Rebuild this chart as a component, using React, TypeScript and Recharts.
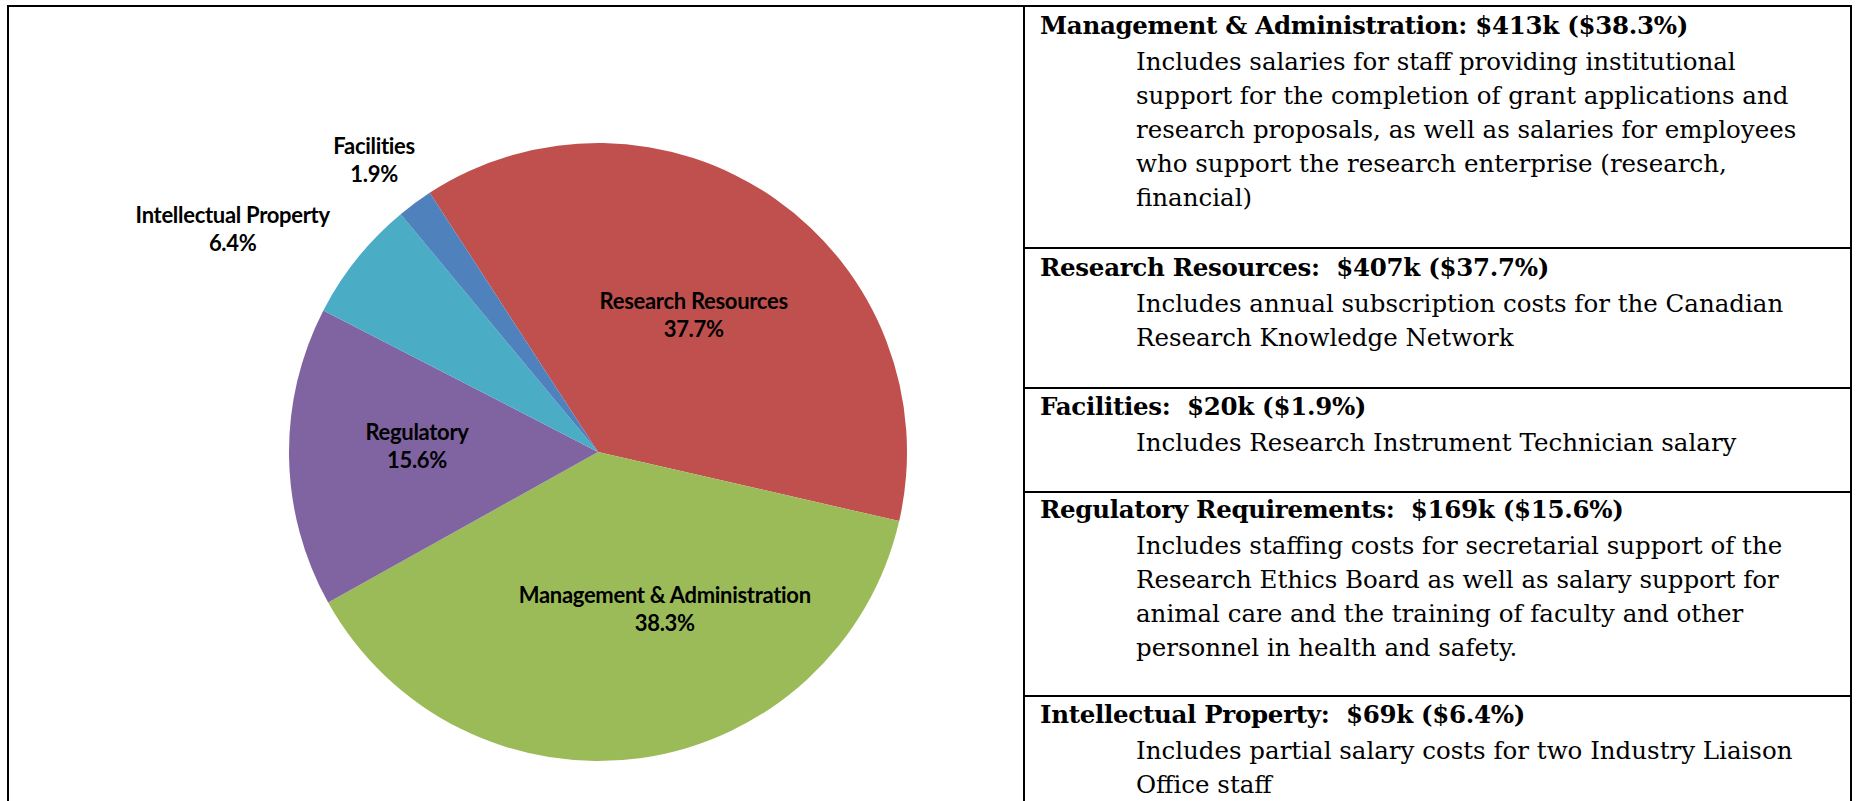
import { PieChart, Pie, Cell } from 'recharts'

// slices in clockwise order, starting at the top-left edge of Research Resources
const categories = ['Research Resources', 'Management & Administration', 'Regulatory', 'Intellectual Property', 'Facilities']
const amounts = [407, 413, 169, 69, 20] // $k
const percentLabels = ['37.7%', '38.3%', '15.6%', '6.4%', '1.9%']
const colors = ['#C0504D', '#9BBB59', '#8064A2', '#4BACC6', '#4F81BD']

// where each data label sits: angle (deg) and distance as a share of the radius
const labelAngles = [55, -67, 178, 148.6, 127.5]
const labelRadius = [0.54, 0.553, 0.586, 1.385, 1.19]

const notes = [
  {
    title: 'Management & Administration: $413k ($38.3%)',
    lines: [
      'Includes salaries for staff providing institutional',
      'support for the completion of grant applications and',
      'research proposals, as well as salaries for employees',
      'who support the research enterprise (research,',
      'financial)',
    ],
  },
  {
    title: 'Research Resources:  $407k ($37.7%)',
    lines: ['Includes annual subscription costs for the Canadian', 'Research Knowledge Network'],
  },
  {
    title: 'Facilities:  $20k ($1.9%)',
    lines: ['Includes Research Instrument Technician salary'],
  },
  {
    title: 'Regulatory Requirements:  $169k ($15.6%)',
    lines: [
      'Includes staffing costs for secretarial support of the',
      'Research Ethics Board as well as salary support for',
      'animal care and the training of faculty and other',
      'personnel in health and safety.',
    ],
  },
  {
    title: 'Intellectual Property:  $69k ($6.4%)',
    lines: ['Includes partial salary costs for two Industry Liaison', 'Office staff'],
  },
]
const rowTops = [7, 249, 389, 493, 697]
const textTops = [9, 251, 390, 493, 698]

const data = categories.map((name, i) => ({ name, value: amounts[i] }))

const RAD = Math.PI / 180

function renderLabel(props: any) {
  const { cx, cy, outerRadius, index } = props
  const r = outerRadius * labelRadius[index]
  const a = labelAngles[index]
  const x = cx + r * Math.cos(-a * RAD)
  const y = cy + r * Math.sin(-a * RAD)
  return (
    <text
      x={x}
      y={y}
      textAnchor="middle"
      fontFamily="Lato, sans-serif"
      fontWeight={700}
      fontSize={22}
      letterSpacing={-0.3}
      fill="#000"
    >
      <tspan x={x} dy={-6}>{categories[index]}</tspan>
      <tspan x={x} dy={28}>{percentLabels[index]}</tspan>
    </text>
  )
}

export default function App() {
  return (
    <div style={{ position: 'absolute', left: 0, top: 0, width: 1856, height: 801, background: '#fff', overflow: 'hidden' }}>
      {/* frame */}
      <div
        style={{
          position: 'absolute', left: 7, top: 5, width: 1841, height: 820,
          borderTop: '2px solid #000', borderLeft: '2px solid #000', borderRight: '2px solid #000',
        }}
      />
      <div style={{ position: 'absolute', left: 1023, top: 5, width: 2, height: 820, background: '#000' }} />

      <div style={{ position: 'absolute', left: 9, top: 7 }}>
        <PieChart width={1014} height={794} margin={{ top: 0, right: 0, bottom: 0, left: 0 }}>
          <Pie
            data={data}
            dataKey="value"
            cx={589}
            cy={445}
            outerRadius={309}
            startAngle={123}
            endAngle={-237}
            stroke="none"
            label={renderLabel}
            labelLine={false}
            isAnimationActive={false}
          >
            {data.map((d, i) => (
              <Cell key={d.name} fill={colors[i]} />
            ))}
          </Pie>
        </PieChart>
      </div>

      {/* notes table */}
      {rowTops.slice(1).map((t) => (
        <div key={t} style={{ position: 'absolute', left: 1025, top: t - 2, width: 825, height: 2, background: '#000' }} />
      ))}
      {notes.map((n, i) => (
        <div
          key={n.title}
          style={{
            position: 'absolute', left: 1040, top: textTops[i], width: 800,
            fontFamily: '"DejaVu Serif", serif', fontSize: 24.5, lineHeight: '34px', color: '#000',
          }}
        >
          <div style={{ fontWeight: 700, whiteSpace: 'pre', letterSpacing: -0.3, marginBottom: 2 }}>{n.title}</div>
          {n.lines.map((l) => (
            <div key={l} style={{ paddingLeft: 96, whiteSpace: 'nowrap' }}>{l}</div>
          ))}
        </div>
      ))}
    </div>
  )
}
